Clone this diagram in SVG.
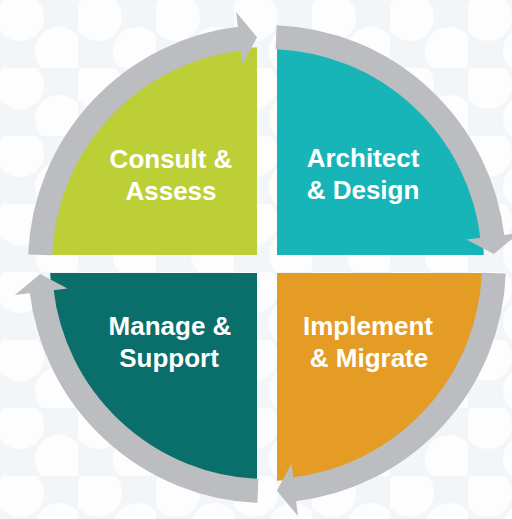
<svg xmlns="http://www.w3.org/2000/svg" xmlns:xlink="http://www.w3.org/1999/xlink" width="512" height="519" viewBox="0 0 512 519">
  <style>
    .lbl { font-family: "Liberation Sans", Arial, sans-serif; font-weight: bold; font-size: 26px; fill: #ffffff; text-anchor: middle; }
    .ring { fill: none; stroke: #bcbdc0; stroke-width: 24; }
    .head { fill: #bcbdc0; }
  </style>
  <defs>
    <pattern id="bubbles" width="78" height="68" patternUnits="userSpaceOnUse">
      <circle cx="20" cy="17" r="24" fill="#ffffff"/>
      <circle cx="59" cy="51" r="24" fill="#ffffff"/>
    </pattern>
    <g id="arrowShape">
      <path class="ring" d="M40.18,254.89 A227,227 0 0 1 241.30,38.46"/>
      <polygon class="head" points="242.50,64.50 236.05,11.89 257.10,37.22"/>
    </g>
  </defs>

  <rect x="0" y="0" width="512" height="519" fill="#f3f6f9"/>
  <rect x="0" y="0" width="512" height="519" fill="url(#bubbles)" opacity="0.8"/>

  <g id="consult-assess">
    <path d="M257,255 L50.19,255 A217,217 0 0 1 257,47.23 Z" fill="#bccf37"/>
    <text class="lbl" x="171" y="168">Consult &amp;</text>
    <text class="lbl" x="171" y="200">Assess</text>
  </g>

  <g id="architect-design">
    <path d="M277,255 L277,47.23 A217,217 0 0 1 483.81,255 Z" fill="#17b5b8"/>
    <text class="lbl" x="363" y="167">Architect</text>
    <text class="lbl" x="363" y="199">&amp; Design</text>
  </g>

  <g id="implement-migrate">
    <path d="M277,273 L483.81,273 A217,217 0 0 1 277,480.77 Z" fill="#e59c25"/>
    <text class="lbl" x="368" y="335">Implement</text>
    <text class="lbl" x="369" y="367">&amp; Migrate</text>
  </g>

  <g id="manage-support">
    <path d="M257,273 L257,480.77 A217,217 0 0 1 50.19,273 Z" fill="#0a6e6b"/>
    <text class="lbl" x="170" y="335">Manage &amp;</text>
    <text class="lbl" x="169" y="367">Support</text>
  </g>

  <g id="connectors">
    <use xlink:href="#arrowShape" href="#arrowShape"/>
    <use xlink:href="#arrowShape" href="#arrowShape" transform="rotate(90 267 264)"/>
    <use xlink:href="#arrowShape" href="#arrowShape" transform="rotate(180 267 264)"/>
    <use xlink:href="#arrowShape" href="#arrowShape" transform="rotate(270 267 264)"/>
  </g>
</svg>
